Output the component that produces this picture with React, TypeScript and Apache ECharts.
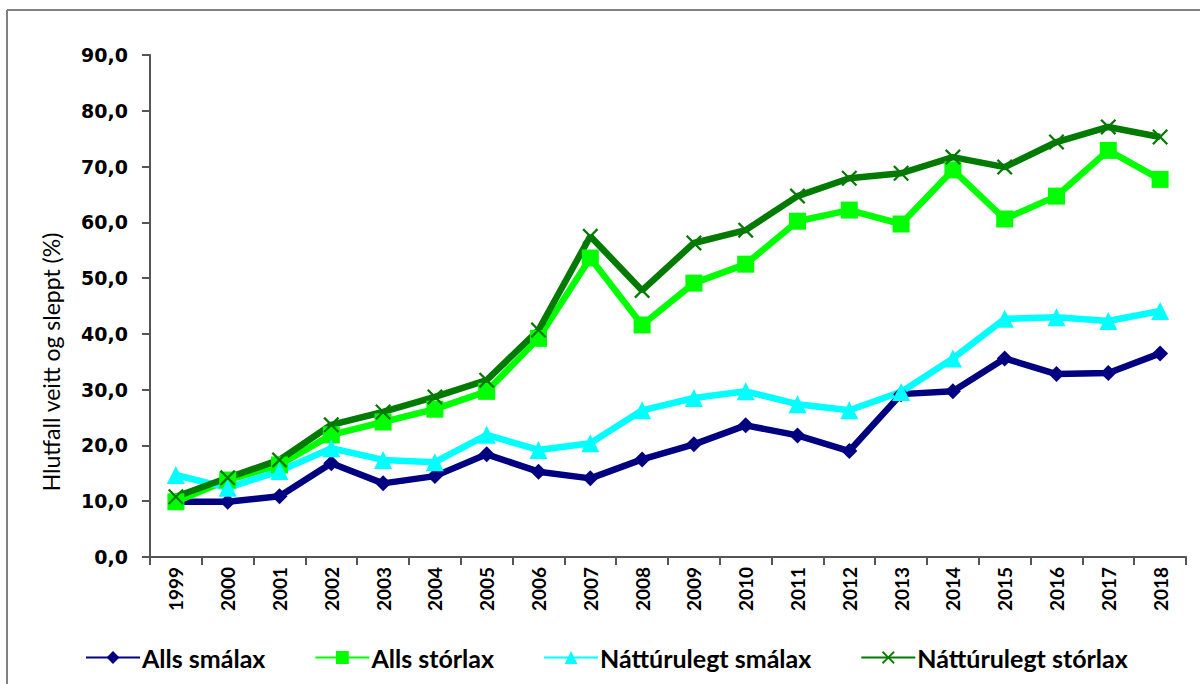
import React, { useEffect, useRef } from "react";
import * as echarts from "echarts";

const years = ["1999","2000","2001","2002","2003","2004","2005","2006","2007","2008","2009","2010","2011","2012","2013","2014","2015","2016","2017","2018"];
const allsSmalax = [9.9, 9.9, 10.9, 16.8, 13.2, 14.5, 18.4, 15.3, 14.1, 17.5, 20.2, 23.6, 21.8, 19.0, 29.2, 29.7, 35.6, 32.8, 33.0, 36.5];
const allsStorlax = [9.9, 13.8, 16.5, 21.9, 24.2, 26.5, 29.7, 39.2, 53.6, 41.6, 49.1, 52.5, 60.2, 62.2, 59.7, 69.4, 60.6, 64.7, 72.9, 67.7];
const nattSmalax = [14.7, 12.4, 15.4, 19.5, 17.4, 17.0, 21.9, 19.2, 20.4, 26.3, 28.5, 29.7, 27.4, 26.3, 29.6, 35.6, 42.7, 43.0, 42.3, 44.1];
const nattStorlax = [10.8, 14.2, 17.4, 23.7, 26.0, 28.7, 31.7, 40.7, 57.5, 47.8, 56.3, 58.6, 64.7, 67.9, 68.8, 71.7, 69.9, 74.4, 77.1, 75.3];
const seriesNames = ["Alls smálax", "Alls stórlax", "Náttúrulegt smálax", "Náttúrulegt stórlax"];
const yTitle = "Hlutfall veitt og sleppt (%)";

const xPath = "path://M0,1 L1,0 L5,4 L9,0 L10,1 L6,5 L10,9 L9,10 L5,6 L1,10 L0,9 L4,5 Z";
const narrow = "Lato, Open Sans, sans-serif";

export default function App() {
  const ref = useRef<HTMLDivElement>(null);
  useEffect(() => {
    if (!ref.current) return;
    const chart = echarts.init(ref.current, null, { renderer: "svg" });
    const mk = (name: string, data: number[], color: string, symbol: string, size: number) => ({
      name,
      type: "line",
      data,
      symbol,
      symbolSize: size,
      showSymbol: true,
      lineStyle: { color, width: 6.5 },
      itemStyle: { color, borderWidth: 0 },
    });
    chart.setOption({
      animation: false,
      backgroundColor: "#ffffff",
      graphic: [
        { type: "line", shape: { x1: 7, y1: 10, x2: 1200, y2: 10 }, style: { stroke: "#808080", lineWidth: 2 } },
        { type: "line", shape: { x1: 7, y1: 10, x2: 7, y2: 684 }, style: { stroke: "#808080", lineWidth: 2 } },
        {
          type: "text",
          x: 51,
          y: 362,
          rotation: Math.PI / 2,
          style: {
            text: yTitle,
            fontFamily: narrow,
            fontSize: 23,
            fill: "#000",
            align: "center",
            verticalAlign: "middle",
          },
        },
      ],
      grid: { left: 150, right: 14, top: 55, bottom: 127, containLabel: false },
      legend: {
        top: 640,
        left: 80,
        itemWidth: 54,
        itemHeight: 16,
        itemGap: 49,
        textStyle: { fontFamily: narrow, fontWeight: "bold", fontSize: 25, color: "#000", padding: [0, 0, 0, -3] },
        data: seriesNames,
      },
      xAxis: {
        type: "category",
        data: years,
        boundaryGap: true,
        axisLine: { lineStyle: { color: "#555", width: 2 } },
        axisTick: { show: true, length: 8, lineStyle: { color: "#555", width: 2 } },
        axisLabel: { rotate: 90, fontFamily: narrow, fontWeight: "bold", fontSize: 19, color: "#000", margin: 10 },
      },
      yAxis: {
        type: "value",
        min: 0,
        max: 90,
        interval: 10,
        splitLine: { show: false },
        axisLine: { show: true, lineStyle: { color: "#555", width: 2 } },
        axisTick: { show: true, length: 8, lineStyle: { color: "#555", width: 2 } },
        axisLabel: {
          fontFamily: "DejaVu Sans, Verdana, sans-serif",
          fontWeight: "bold",
          fontSize: 19,
          color: "#000",
          margin: 22,
          formatter: (v: number) => v.toFixed(1).replace(".", ","),
        },
      },
      series: [
        mk(seriesNames[0], allsSmalax, "#000080", "diamond", 16),
        mk(seriesNames[1], allsStorlax, "#00ff00", "rect", 17),
        mk(seriesNames[2], nattSmalax, "#00ffff", "triangle", 18),
        mk(seriesNames[3], nattStorlax, "#007a00", xPath, 16),
      ],
    });
    return () => chart.dispose();
  }, []);
  return <div ref={ref} style={{ position: "absolute", left: 0, top: 0, width: 1200, height: 684 }} />;
}
